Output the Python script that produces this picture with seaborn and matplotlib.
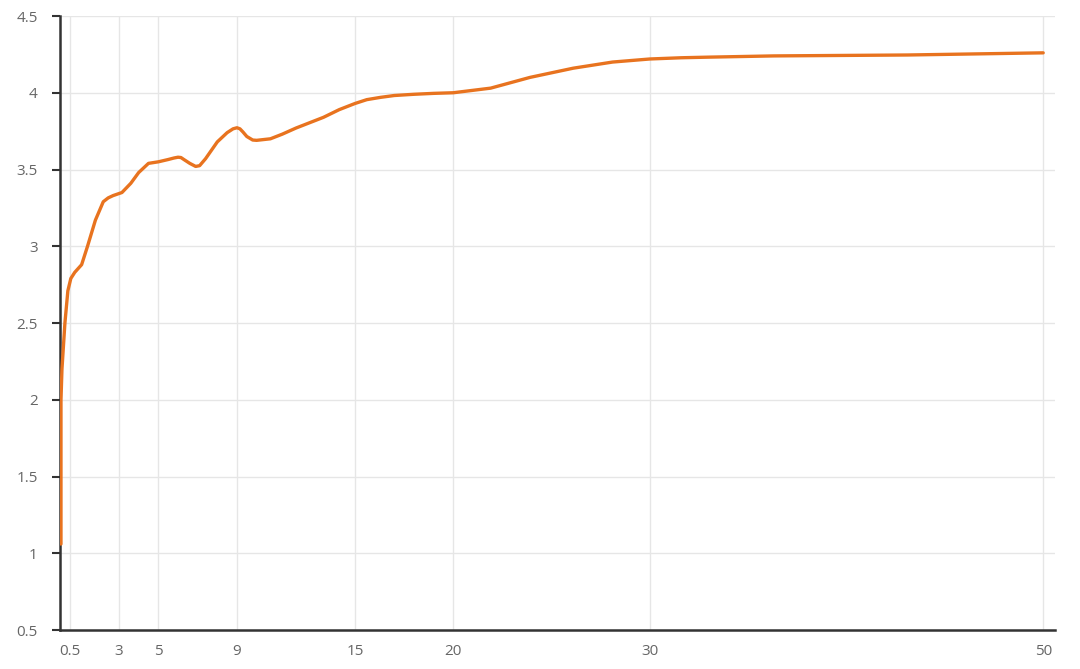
import numpy as np
import pandas as pd
import seaborn as sns
import matplotlib.pyplot as plt

# Values
x_vals = [0.05, 0.05, 0.1, 0.25, 0.4, 0.55, 0.75, 1.1, 1.4, 1.8, 2.2, 2.45,
          2.7, 3.15, 3.6, 4.0, 4.5, 5.0, 5.5, 5.8, 6.0, 6.15, 6.3, 6.6, 6.9,
          7.1, 7.4, 8.0, 8.5, 8.8, 9.0, 9.15, 9.3, 9.5, 9.8, 10.0, 10.7, 11.3,
          12.0, 13.4, 14.2, 15.0, 15.6, 16.3, 17.0, 18.0, 19.0, 20.0, 21.9,
          23.9, 26.1, 28.1, 30.0, 31.6, 33.0, 36.3, 43.1, 50.0]
y_vals = [1.06, 2.0, 2.2, 2.5, 2.71, 2.79, 2.83, 2.88, 3.0, 3.17, 3.29, 3.315,
          3.33, 3.35, 3.41, 3.48, 3.54, 3.55, 3.565, 3.575, 3.58, 3.578, 3.565,
          3.54, 3.52, 3.525, 3.57, 3.68, 3.74, 3.765, 3.772, 3.765, 3.745,
          3.715, 3.692, 3.69, 3.70, 3.73, 3.77, 3.84, 3.89, 3.93, 3.955, 3.97,
          3.982, 3.99, 3.996, 4.0, 4.03, 4.10, 4.16, 4.20, 4.22, 4.228, 4.232,
          4.24, 4.246, 4.26]
x_ticks = [0.5, 3, 5, 9, 15, 20, 30, 50]
x_labels = ['0.5', '3', '5', '9', '15', '20', '30', '50']
y_ticks = [0.5, 1, 1.5, 2, 2.5, 3, 3.5, 4, 4.5]
y_labels = ['0.5', '1', '1.5', '2', '2.5', '3', '3.5', '4', '4.5']

df = pd.DataFrame({'x': x_vals, 'y': y_vals})

sns.set_style('white')
plt.rcParams['font.family'] = ['Open Sans', 'DejaVu Sans']

fig = plt.figure(figsize=(10.8, 6.69), dpi=100)
ax = fig.add_axes([60 / 1080, 1 - 630 / 669, 995 / 1080, 614 / 669])

line = sns.lineplot(data=df, x='x', y='y', ax=ax, sort=False, estimator=None,
                    color='#E8731F', linewidth=2.4, zorder=3)
for ln in ax.lines:
    ln.set_solid_joinstyle('round')
    ln.set_solid_capstyle('round')

ax.set_xlim(0, 50.6)
ax.set_ylim(0.5, 4.5)
ax.set_xticks(x_ticks)
ax.set_xticklabels(x_labels)
ax.set_yticks(y_ticks)
ax.set_yticklabels(y_labels)
ax.set_xlabel('')
ax.set_ylabel('')

ax.grid(True, color='#e6e6e6', linewidth=1)
ax.set_axisbelow(True)

for s in ['top', 'right']:
    ax.spines[s].set_visible(False)
for s in ['left', 'bottom']:
    ax.spines[s].set_color('#333333')
    ax.spines[s].set_linewidth(1.8)

ax.tick_params(axis='y', direction='out', length=6, width=1.5, color='#333333',
               pad=10, labelsize=11, labelcolor='#666666', left=True)
ax.tick_params(axis='x', length=0, pad=10, labelsize=11,
               labelcolor='#666666')

fig.savefig('out.png', dpi=100, facecolor='white')
